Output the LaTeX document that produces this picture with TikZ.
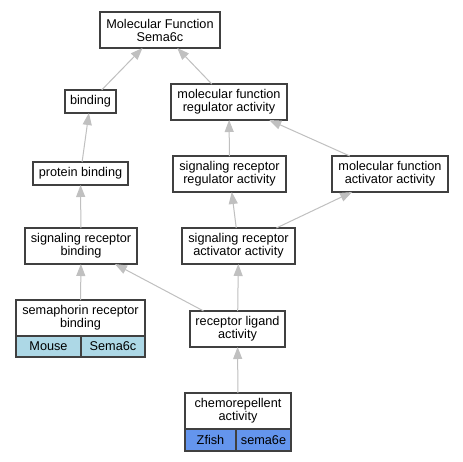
\documentclass[tikz,border=0pt]{standalone}
\usepackage{fontspec}
\setmainfont{Liberation Sans}
\usetikzlibrary{arrows.meta}
\definecolor{boxline}{HTML}{404040}
\definecolor{edgegray}{HTML}{C0C0C0}
\definecolor{mousecell}{HTML}{ADD8E6}
\definecolor{fishcell}{HTML}{6495ED}
\begin{document}
\begin{tikzpicture}[x=1pt,y=-1pt,
        term/.style={draw=boxline,line width=1.2pt,fill=white,inner sep=0pt,outer sep=0pt,
            align=center,font=\fontsize{12.7}{13}\selectfont},
        cell/.style={term,minimum height=#1},
        isa/.style={draw=edgegray,line width=1pt,-{Triangle[length=12pt,width=9pt]}}]
        \useasboundingbox[fill=white] (0,0) rectangle (463,461);
        %% terms
        \node[term,minimum width=120pt,minimum height=36pt] (mf) at (160,30) {Molecular Function\\Sema6c};
        \node[term,minimum width=51pt,minimum height=23pt] (binding) at (90.5,101.5) {binding};
        \node[term,minimum width=116pt,minimum height=36pt] (mfreg) at (229,102) {molecular function\\regulator activity};
        \node[term,minimum width=95pt,minimum height=23pt] (protbind) at (80.5,173.5) {protein binding};
        \node[term,minimum width=113pt,minimum height=36pt] (srreg) at (229.5,174) {signaling receptor\\regulator activity};
        \node[term,minimum width=116pt,minimum height=36pt] (mfact) at (390,174) {molecular function\\activator activity};
        \node[term,minimum width=112pt,minimum height=36pt] (srbind) at (81,246) {signaling receptor\\binding};
        \node[term,minimum width=113pt,minimum height=36pt] (sract) at (238.5,246) {signaling receptor\\activator activity};
        \node[term,minimum width=95pt,minimum height=36pt] (ligand) at (237.5,329) {receptor ligand\\activity};
        %% annotated terms
        \node[term,minimum width=129pt,minimum height=36pt] (semabind) at (80.5,318) {semaphorin receptor\\binding};
        \node[cell=21pt,fill=mousecell,minimum width=65pt] (mouse) at (48.5,346.5) {Mouse};
        \node[cell=21pt,fill=mousecell,minimum width=64pt] (semagene) at (113,346.5) {Sema6c};
        \node[term,minimum width=106pt,minimum height=36pt] (chemo) at (238,411) {chemorepellent\\activity};
        \node[cell=22pt,fill=fishcell,minimum width=51pt] (zfish) at (210.5,440) {Zfish};
        \node[cell=22pt,fill=fishcell,minimum width=55pt] (fishgene) at (263.5,440) {sema6e};
        %% is_a edges
        \draw[isa] (binding) -- (mf);
        \draw[isa] (mfreg) -- (mf);
        \draw[isa] (protbind) -- (binding);
        \draw[isa] (srreg) -- (mfreg);
        \draw[isa] (mfact) -- (mfreg);
        \draw[isa] (srbind) -- (protbind);
        \draw[isa] (sract) -- (srreg);
        \draw[isa] (sract) -- (mfact);
        \draw[isa] (semabind) -- (srbind);
        \draw[isa] (ligand) -- (srbind);
        \draw[isa] (ligand) -- (sract);
        \draw[isa] (chemo) -- (ligand);
    \end{tikzpicture}
\end{document}
